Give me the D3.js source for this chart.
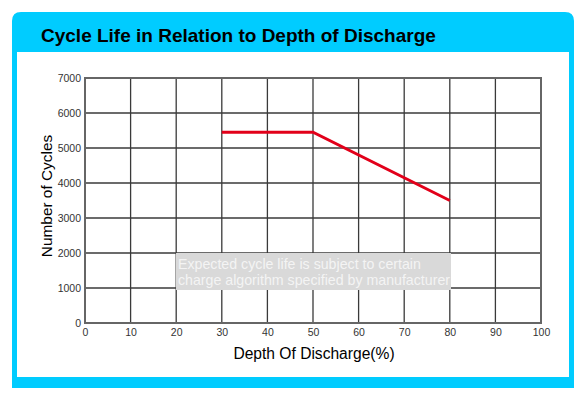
<!DOCTYPE html>
<html>
<head>
<meta charset="utf-8">
<script src="https://cdn.jsdelivr.net/npm/d3@7"></script>
<style>
  html, body { margin: 0; padding: 0; background: #fff; }
  svg { display: block; font-family: "Liberation Sans", Arial, sans-serif; }
</style>
</head>
<body>
<svg id="chart"></svg>
<script>
// data
var depthOfDischarge = [30, 50, 80];
var cycles = [5450, 5450, 3500];
var xTicks = [0, 10, 20, 30, 40, 50, 60, 70, 80, 90, 100];
var yTicks = [0, 1000, 2000, 3000, 4000, 5000, 6000, 7000];
var noteLines = ["Expected cycle life is subject to certain", "charge algorithm specified by manufacturer"];

var svgWidth = 581, svgHeight = 394;
var margin = { top: 78, right: 40, bottom: 71, left: 85 };
var width = svgWidth - margin.left - margin.right;
var height = svgHeight - margin.top - margin.bottom;

var svg = d3.select("#chart")
	.attr("width", svgWidth)
	.attr("height", svgHeight);

//blue frame with rounded top corners
var r = 9, fx0 = 12, fy0 = 12, fx1 = 574, fy1 = 388;
svg.append("path")
	.attr("d", `M${fx0},${fy1} V${fy0 + r} Q${fx0},${fy0} ${fx0 + r},${fy0} H${fx1 - r} Q${fx1},${fy0} ${fx1},${fy0 + r} V${fy1} Z`)
	.attr("fill", "#00ccff");
svg.append("rect")
	.attr("x", 17).attr("y", 52)
	.attr("width", 569 - 17).attr("height", 377 - 52)
	.attr("fill", "#fff");

svg.append("text")
	.attr("x", 41).attr("y", 41.5)
	.attr("font-size", 19).attr("font-weight", "bold")
	.attr("fill", "#000")
	.text("Cycle Life in Relation to Depth of Discharge");

var x = d3.scaleLinear().domain([0, 100]).range([margin.left, margin.left + width]);
var y = d3.scaleLinear().domain([0, 7000]).range([margin.top + height, margin.top]);

//grid
var grid = svg.append("g").attr("stroke", "#3a3a3a").attr("stroke-width", 1.3);
grid.selectAll("line.v").data(xTicks.slice(1, -1)).join("line")
	.attr("x1", d => x(d)).attr("x2", d => x(d))
	.attr("y1", y(7000)).attr("y2", y(0));
grid.selectAll("line.h").data(yTicks.slice(1, -1)).join("line")
	.attr("x1", x(0)).attr("x2", x(100))
	.attr("y1", d => y(d)).attr("y2", d => y(d));

//axes
var xAxis = svg.append("g")
	.attr("transform", `translate(0,${y(0)})`)
	.call(d3.axisBottom(x).tickValues(xTicks).tickSize(0).tickPadding(6));
var yAxis = svg.append("g")
	.attr("transform", `translate(${x(0)},0)`)
	.call(d3.axisLeft(y).tickValues(yTicks).tickSize(0).tickPadding(4).tickFormat(d3.format("d")));
[xAxis, yAxis].forEach(function(a){
	a.select(".domain").remove();
	a.selectAll("text").attr("font-size", 10.5).attr("fill", "#333").attr("font-family", "Liberation Sans, Arial, sans-serif");
});

//plot frame
svg.append("rect")
	.attr("x", x(0)).attr("y", y(7000))
	.attr("width", x(100) - x(0)).attr("height", y(0) - y(7000))
	.attr("fill", "none").attr("stroke", "#666").attr("stroke-width", 2);

//note box
var note = svg.append("g");
note.append("rect")
	.attr("x", 176).attr("y", 253).attr("width", 275).attr("height", 37)
	.attr("fill", "#d9d9d9");
note.selectAll("text").data(noteLines).join("text")
	.attr("x", 178).attr("y", (d, i) => 269 + i * 16)
	.attr("font-size", 14.2).attr("fill", "#f4f4f4")
	.attr("textLength", (d, i) => i === 0 ? null : 272)
	.text(d => d);

//cycle life line
var line = d3.line()
	.x((d, i) => x(depthOfDischarge[i]))
	.y(d => y(d));
svg.append("path")
	.attr("d", line(cycles))
	.attr("fill", "none")
	.attr("stroke", "#e2001a")
	.attr("stroke-width", 3);

//axis titles
svg.append("text")
	.attr("x", 314).attr("y", 359)
	.attr("text-anchor", "middle").attr("font-size", 15.6).attr("fill", "#000")
	.text("Depth Of Discharge(%)");
svg.append("text")
	.attr("transform", "translate(51.5,196) rotate(-90)")
	.attr("text-anchor", "middle").attr("font-size", 15.4).attr("fill", "#000")
	.text("Number of Cycles");
</script>
</body>
</html>
